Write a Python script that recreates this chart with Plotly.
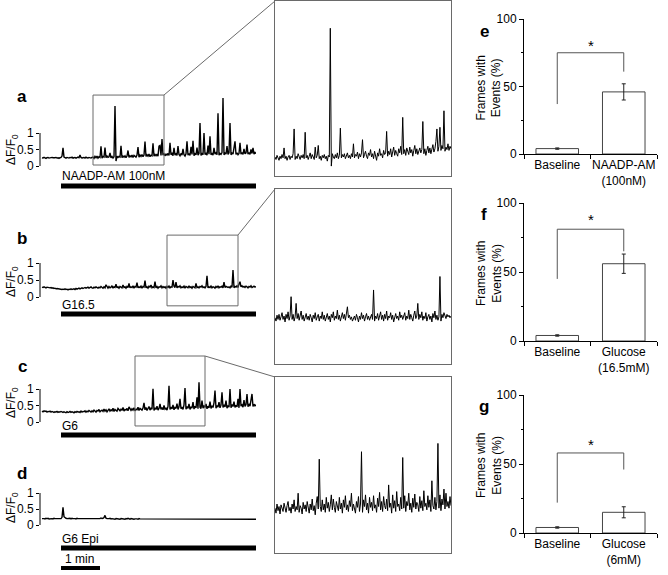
import numpy as np
import plotly.graph_objects as go

W, H = 668, 575
def px(x): return x / W
def py(y): return 1 - y / H

SEC_PER_SAMPLE = 60 / 39  # one sample per screen pixel; 1 min = 39 px
def t(i): return i * SEC_PER_SAMPLE

# ---------------- traces (ΔF/F0) ----------------
trace_a = [
 0.25,0.24,0.26,0.25,0.23,0.25,0.26,0.24,0.25,0.24,0.26,0.25,0.24,0.25,0.26,0.24,0.25,0.23,0.25,
 0.26,0.30,0.55,0.27,
 0.25,0.24,0.26,0.25,0.24,0.26,0.25,0.27,0.24,0.25,0.26,0.24,0.25,0.27,0.25,0.33,0.26,0.24,0.25,0.26,0.24,0.27,0.25,0.24,0.26,0.25,0.24,0.26,
 0.27,0.23,0.29,0.25,0.30,0.24,0.28,0.26,0.60,0.24,0.29,0.27,0.56,0.25,0.30,0.26,0.28,0.40,0.25,0.29,
 0.24,0.28,1.82,0.15,0.30,0.26,0.29,0.27,0.61,0.25,0.30,0.27,0.31,0.25,0.30,0.47,0.26,0.31,0.28,0.33,
 0.26,0.32,0.29,0.27,0.33,0.57,0.27,0.33,0.29,0.35,0.28,0.33,0.74,0.29,0.34,0.30,0.36,0.28,0.33,0.31,
 0.69,0.30,0.35,0.31,0.36,0.30,0.60,0.62,0.32,0.82,0.33,0.37,
 0.31,0.36,0.33,0.38,0.32,0.70,0.34,0.38,0.31,0.55,0.33,0.37,0.32,0.60,0.35,0.31,0.38,0.33,0.52,0.34,
 0.30,0.37,0.75,0.33,0.38,0.32,0.58,0.35,0.76,0.31,0.37,0.34,0.56,0.33,0.38,1.30,0.32,0.39,0.34,1.00,
 0.35,0.38,0.33,0.62,0.36,0.90,0.34,0.39,0.33,0.55,0.36,0.40,0.34,1.60,0.33,0.38,0.35,0.41,2.06,0.34,
 0.39,0.36,0.60,0.35,0.40,1.30,0.34,0.39,0.36,0.55,0.75,0.35,0.40,0.34,0.38,0.70,0.36,0.41,0.35,0.52,
 0.37,0.40,0.65,0.36,0.41,0.35,0.50,0.38,0.55,0.36,0.41,0.38,
]
inset_a = [
 0.26,0.23,0.28,0.25,0.22,0.27,0.24,0.29,0.25,0.37,0.24,0.27,0.22,0.26,0.28,0.23,
 0.27,0.25,0.30,0.60,0.23,0.27,0.24,0.30,0.26,0.23,0.28,0.25,0.29,0.24,0.56,0.25,
 0.28,0.23,0.27,0.31,0.24,0.29,0.26,0.23,0.38,0.25,0.28,0.40,0.24,0.27,0.22,0.28,
 0.25,0.29,0.24,0.27,0.21,0.28,0.26,1.82,0.15,0.30,0.26,0.24,0.29,0.25,0.31,0.24,
 0.28,0.61,0.25,0.29,0.26,0.30,0.24,0.27,0.31,0.25,0.28,0.24,0.30,0.26,0.42,0.25,
 0.29,0.27,0.32,0.24,0.30,0.26,0.31,0.47,0.25,0.29,0.33,0.27,0.24,0.31,0.28,0.35,
 0.26,0.30,0.24,0.33,0.29,0.22,0.31,0.27,0.36,0.28,0.30,0.25,0.34,0.29,0.31,0.57,
 0.27,0.33,0.29,0.36,0.26,0.31,0.38,0.28,0.34,0.30,0.27,0.36,0.31,0.39,0.29,0.74,
 0.30,0.35,0.28,0.37,0.32,0.29,0.38,0.31,0.35,0.27,0.34,0.40,0.30,0.36,0.29,0.33,
 0.37,0.31,0.35,0.69,0.30,0.36,0.28,0.34,0.39,0.31,0.37,0.30,0.35,0.41,0.32,0.36,
 0.45,0.60,0.33,0.39,0.62,0.34,0.40,0.36,0.82,0.33,0.38,0.35,0.42,0.34,0.39,0.36,
]
trace_b = [
 0.29,0.28,0.30,0.28,0.27,0.29,0.28,0.26,0.27,0.28,0.26,0.27,0.25,0.26,0.24,0.25,0.24,0.23,0.24,0.23,
 0.22,0.23,0.22,0.24,0.22,0.23,0.21,0.23,0.22,0.24,0.22,0.23,0.24,0.22,0.25,0.23,0.24,0.26,0.24,0.25,
 0.27,0.25,0.26,0.28,0.26,0.27,0.29,0.26,0.28,0.30,0.27,0.26,0.29,0.27,0.30,0.28,0.26,0.29,0.27,0.31,
 0.28,0.26,0.30,0.27,0.36,0.28,0.26,0.31,0.27,0.29,0.33,0.26,0.30,0.28,0.38,0.27,0.30,0.26,0.31,0.29,
 0.27,0.35,0.28,0.30,0.26,0.31,0.28,0.40,0.27,0.30,0.28,0.33,0.26,0.31,0.29,0.42,0.27,0.30,0.28,0.32,
 0.26,0.31,0.29,0.48,0.27,0.30,0.26,0.32,0.29,0.35,0.27,0.30,0.28,0.45,0.27,0.31,0.26,0.30,0.29,0.33,
 0.27,0.31,0.28,0.30,0.26,0.31,0.28,0.32,0.27,0.30,0.29,0.50,0.32,0.28,0.44,0.27,0.31,0.29,0.33,0.27,
 0.30,0.28,0.32,0.26,0.31,0.29,0.27,0.33,0.28,0.30,0.26,0.31,0.29,0.27,0.40,0.28,0.30,0.27,0.31,0.29,
 0.33,0.28,0.30,0.27,0.31,0.62,0.27,0.30,0.28,0.32,0.27,0.30,0.29,0.26,0.31,0.28,0.33,0.27,0.30,0.29,
 0.32,0.27,0.44,0.28,0.31,0.29,0.28,0.30,0.27,0.32,0.29,0.79,0.27,0.31,0.29,0.33,0.28,0.38,0.45,0.30,
 0.33,0.29,0.31,0.28,0.32,0.30,0.27,0.31,0.29,0.33,0.28,0.30,0.32,0.29,0.31,
]
inset_b = [
 0.29,0.25,0.32,0.27,0.33,0.26,0.30,0.35,0.27,0.31,0.24,0.33,0.28,0.36,0.26,0.31,
 0.54,0.27,0.33,0.25,0.30,0.46,0.28,0.34,0.26,0.31,0.37,0.27,0.32,0.25,0.30,0.34,
 0.27,0.31,0.26,0.33,0.29,0.24,0.32,0.28,0.35,0.26,0.30,0.33,0.25,0.31,0.28,0.36,
 0.27,0.32,0.25,0.30,0.34,0.27,0.31,0.24,0.33,0.29,0.36,0.26,0.31,0.28,0.38,0.27,
 0.32,0.25,0.30,0.35,0.28,0.33,0.26,0.37,0.42,0.29,0.32,0.27,0.30,0.25,0.28,0.31,
 0.26,0.33,0.29,0.24,0.31,0.27,0.35,0.28,0.32,0.25,0.30,0.34,0.27,0.31,0.26,0.29,
 0.33,0.27,0.62,0.25,0.31,0.28,0.34,0.26,0.30,0.36,0.27,0.32,0.25,0.33,0.28,0.37,
 0.26,0.31,0.29,0.35,0.27,0.32,0.24,0.30,0.34,0.28,0.31,0.26,0.36,0.29,0.32,0.27,
 0.30,0.35,0.26,0.31,0.28,0.38,0.27,0.33,0.29,0.25,0.32,0.37,0.28,0.31,0.46,0.27,
 0.33,0.29,0.36,0.26,0.31,0.28,0.35,0.25,0.30,0.33,0.27,0.31,0.24,0.34,0.29,0.37,
 0.27,0.32,0.26,0.30,0.78,0.25,0.33,0.29,0.35,0.31,0.28,0.33,0.30,0.32,0.29,0.31,
]
trace_c = [
 0.33,0.31,0.34,0.32,0.33,0.30,0.32,0.31,0.33,0.30,0.32,0.31,0.29,0.31,0.30,0.32,0.29,0.31,0.30,0.32,
 0.30,0.29,0.31,0.30,0.28,0.31,0.29,0.30,0.32,0.29,0.31,0.30,0.28,0.31,0.29,0.32,0.30,0.31,0.29,0.33,
 0.30,0.32,0.31,0.34,0.30,0.33,0.31,0.35,0.32,0.30,0.34,0.31,0.36,0.32,0.30,0.35,0.33,0.38,0.31,0.34,
 0.36,0.32,0.39,0.33,0.37,0.31,0.35,0.40,0.33,0.37,0.34,0.42,0.32,0.38,0.35,0.33,0.41,0.36,0.34,0.39,
 0.35,0.44,0.33,0.38,0.36,0.41,0.34,0.46,0.37,0.35,0.40,0.36,0.43,0.34,0.39,0.37,0.45,0.35,0.41,0.38,
 0.36,0.42,0.58,0.37,0.44,0.35,0.40,0.47,0.36,0.42,0.39,1.01,0.35,0.43,0.38,0.48,0.36,0.41,0.55,0.38,
 0.44,0.37,0.50,0.39,0.42,0.36,0.47,1.10,0.38,0.45,0.40,0.52,0.37,0.44,0.41,0.56,0.38,0.46,0.70,0.40,
 0.45,0.38,0.52,1.03,0.39,0.47,0.41,0.55,0.38,0.46,0.42,0.60,0.39,0.48,0.43,0.75,0.40,1.20,0.45,0.41,
 0.65,0.42,0.50,0.44,0.55,0.40,0.48,0.43,0.62,0.41,0.49,0.44,0.58,0.95,0.42,0.50,0.45,0.60,0.43,0.51,
 0.90,0.44,0.52,0.46,0.65,0.42,0.50,0.45,1.00,0.43,0.53,0.47,0.62,0.44,0.51,0.46,0.70,0.43,1.00,0.48,
 0.52,0.45,0.66,0.47,0.53,0.85,0.46,0.55,0.48,0.75,0.85,0.47,0.54,0.49,0.52,
]
inset_c = [
 0.42,0.36,0.47,0.39,0.44,0.35,0.46,0.40,0.38,0.48,0.41,0.37,0.45,0.50,0.39,0.43,
 0.36,0.47,0.41,0.52,0.38,0.44,0.40,0.60,0.37,0.45,0.42,0.35,0.49,0.41,0.46,0.38,
 0.50,0.43,0.36,0.47,0.40,0.53,0.39,0.45,0.34,0.48,0.56,0.41,1.01,0.44,0.38,0.52,
 0.40,0.47,0.37,0.55,0.42,0.49,0.38,0.46,0.58,0.40,0.53,0.43,0.37,0.50,0.44,0.39,
 0.55,0.41,0.48,0.36,0.52,0.43,0.57,0.40,0.46,0.38,0.51,0.44,0.60,0.39,0.47,0.42,
 0.36,0.50,0.43,0.56,0.38,0.47,1.10,0.37,0.52,0.44,0.58,0.40,0.48,0.36,0.55,0.43,
 0.49,0.39,0.57,0.42,0.46,0.37,0.54,0.44,0.61,0.40,0.50,0.38,0.56,0.45,0.41,0.53,
 0.39,0.70,0.43,0.48,0.36,0.58,0.42,0.51,0.38,0.62,0.44,0.47,0.39,0.55,0.41,1.03,
 0.42,0.57,0.38,0.50,0.45,0.60,0.40,0.48,0.37,0.54,0.43,0.59,0.41,0.49,0.46,0.38,
 0.56,0.42,0.51,0.39,0.63,0.44,0.48,0.40,0.57,0.43,0.52,0.38,0.75,0.45,0.41,0.55,
 0.40,0.50,1.20,0.42,0.58,0.39,0.53,0.46,0.65,0.41,0.60,0.44,0.50,0.42,0.56,0.45,
]
trace_d = [
 0.20,0.21,0.20,0.19,0.21,0.20,0.21,0.19,0.20,0.21,0.20,0.19,0.21,0.20,0.20,0.21,0.19,0.20,0.21,0.20,
 0.24,0.55,0.26,0.22,0.21,0.20,0.21,0.20,0.21,0.19,0.21,0.20,0.21,0.20,0.19,0.21,0.20,0.20,0.21,0.19,
 0.20,0.21,0.20,0.19,0.20,0.21,0.20,0.19,0.21,0.20,0.19,0.20,0.21,0.19,0.20,0.20,0.21,0.19,0.20,0.22,
 0.20,0.21,0.23,0.30,0.21,0.20,0.19,0.20,0.21,0.19,0.20,0.19,0.20,0.18,0.20,0.19,0.20,0.19,0.18,0.20,
 0.19,0.20,0.19,0.18,0.20,0.19,0.21,0.19,0.18,0.20,0.19,0.20,0.18,0.19,0.20,0.19,0.18,0.20,0.19,0.19,
 0.20,0.18,0.19,0.20,0.19,0.18,0.20,0.19,0.18,0.19,0.20,0.18,0.19,0.19,0.18,0.20,0.19,0.18,0.20,0.19,
 0.18,0.19,0.20,0.18,0.19,0.18,0.20,0.19,0.18,0.19,0.18,0.20,0.19,0.18,0.19,0.18,0.19,0.20,0.18,0.19,
 0.18,0.19,0.18,0.20,0.19,0.18,0.19,0.18,0.19,0.18,0.20,0.18,0.19,0.18,0.19,0.18,0.19,0.18,0.19,0.18,
 0.19,0.18,0.20,0.19,0.18,0.19,0.18,0.19,0.18,0.19,0.18,0.20,0.19,0.18,0.19,0.18,0.19,0.18,0.19,0.18,
 0.19,0.18,0.19,0.20,0.19,0.18,0.19,0.18,0.19,0.18,0.19,0.18,0.19,0.20,0.18,0.19,0.18,0.19,0.18,0.19,
 0.18,0.19,0.18,0.19,0.18,0.19,0.18,0.19,0.18,0.19,0.18,0.19,0.18,0.19,0.18,
]

# ---------------- bar charts ----------------
cats_e = ["Baseline", "NAADP-AM<br>(100nM)"]
vals_e = [4, 46]
err_e = [0.5, 6]
cats_f = ["Baseline", "Glucose<br>(16.5mM)"]
vals_f = [4, 56]
err_f = [0.5, 7]
cats_g = ["Baseline", "Glucose<br>(6mM)"]
vals_g = [4, 15]
err_g = [0.5, 4]

treat_labels = ["NAADP-AM 100nM", "G16.5", "G6", "G6 Epi"]
panel_letters = ["a", "b", "c", "d"]

FONT = "Liberation Sans, Arial, Helvetica, sans-serif"
GRAY = "#6a6a6a"

fig = go.Figure()
layout = dict(width=W, height=H, autosize=False, margin=dict(l=0, r=0, t=0, b=0, autoexpand=False),
              paper_bgcolor="white", plot_bgcolor="rgba(0,0,0,0)", showlegend=False,
              font=dict(family=FONT, size=12, color="black"))
shapes, annotations = [], []

def ax_names(k):
    s = "" if k == 1 else str(k)
    return "xaxis" + s, "yaxis" + s, "x" + s, "y" + s

main_panels = [
    dict(vals=trace_a, zero=166, unit=33, top=88, bot=195, lab_y=97, ttl_y=150, txt_y=176, bar_y=186),
    dict(vals=trace_b, zero=297, unit=34, top=226, bot=322, lab_y=238, ttl_y=282, txt_y=305, bar_y=314),
    dict(vals=trace_c, zero=422, unit=33, top=352, bot=442, lab_y=366, ttl_y=403, txt_y=426, bar_y=435),
    dict(vals=trace_d, zero=525, unit=32, top=462, bot=575, lab_y=473, ttl_y=508, txt_y=539, bar_y=548),
]
t_end = t(len(trace_a) - 1)
for k, p in enumerate(main_panels, start=1):
    xa, ya, xr, yr = ax_names(k)
    vals = p["vals"]
    tt = np.arange(len(vals)) * SEC_PER_SAMPLE
    fig.add_trace(go.Scatter(x=tt, y=vals, mode="lines", line=dict(color="black", width=1.4),
                             xaxis=xr, yaxis=yr, hoverinfo="skip"))
    val = lambda yy, p=p: (p["zero"] - yy) / p["unit"]
    layout[xa] = dict(domain=[px(40), px(256)], range=[t(-2), t_end], visible=False, anchor=yr,
                      automargin=False)
    layout[ya] = dict(domain=[py(p["bot"]), py(p["top"])], range=[val(p["bot"]), val(p["top"])],
                      anchor=xr, tickvals=[0, 0.5, 1], ticktext=["0", "0.5", "1"], ticks="outside",
                      ticklen=3, tickcolor="black", showgrid=False, zeroline=False, showline=False,
                      tickfont=dict(size=12, family=FONT), automargin=False)
    shapes.append(dict(type="line", xref=xr + " domain", yref=yr, x0=0, x1=0, y0=0, y1=1,
                       line=dict(color="black", width=1)))
    shapes.append(dict(type="line", xref=xr, yref=yr, x0=t(19), x1=t_end, y0=val(p["bar_y"]),
                       y1=val(p["bar_y"]), line=dict(color="black", width=5)))
    annotations.append(dict(text=treat_labels[k - 1], xref="paper", yref="paper", x=px(60), y=py(p["txt_y"]),
                            xanchor="left", yanchor="middle", showarrow=False, font=dict(size=12)))
    annotations.append(dict(text="<b>" + panel_letters[k - 1] + "</b>", xref="paper", yref="paper",
                            x=px(22), y=py(p["lab_y"]), xanchor="center", yanchor="middle",
                            showarrow=False, font=dict(size=17)))
    annotations.append(dict(text="ΔF/F<sub>0</sub>", xref="paper", yref="paper", x=px(12),
                            y=py(p["ttl_y"]), xanchor="center", yanchor="middle", textangle=-90,
                            showarrow=False, font=dict(size=12)))
    if k == 4:
        shapes.append(dict(type="line", xref=xr, yref=yr, x0=t(19), x1=t(19) + 60,
                           y0=val(568), y1=val(568), line=dict(color="black", width=4)))
        annotations.append(dict(text="1 min", xref="paper", yref="paper", x=px(63), y=py(559),
                                xanchor="left", yanchor="middle", showarrow=False, font=dict(size=12)))

insets = [
    dict(vals=inset_a, main=1, i0=51, i1=122, top=1, bot=176, ylo=0.03, yhi=2.15, corner=(164, 95), to=(275, 1)),
    dict(vals=inset_b, main=2, i0=125, i1=196, top=189, bot=364, ylo=-0.26, yhi=1.82, corner=(238, 235), to=(275, 189)),
    dict(vals=inset_c, main=3, i0=93, i1=163, top=377, bot=553, ylo=-0.12, yhi=2.0, corner=(205, 356), to=(275, 377)),
]
for j, ins in enumerate(insets):
    k = 5 + j
    xa, ya, xr, yr = ax_names(k)
    n = len(ins["vals"])
    tt = np.linspace(t(ins["i0"]), t(ins["i1"]), n)
    fig.add_trace(go.Scatter(x=tt, y=ins["vals"], mode="lines", line=dict(color="black", width=1),
                             xaxis=xr, yaxis=yr, hoverinfo="skip"))
    layout[xa] = dict(domain=[px(275), px(451)], range=[t(ins["i0"]), t(ins["i1"])], anchor=yr,
                      showline=True, mirror=True, linecolor=GRAY, linewidth=1, showticklabels=False,
                      ticks="", showgrid=False, zeroline=False, automargin=False)
    layout[ya] = dict(domain=[py(ins["bot"]), py(ins["top"])], range=[ins["ylo"], ins["yhi"]], anchor=xr,
                      showline=True, mirror=True, linecolor=GRAY, linewidth=1, showticklabels=False,
                      ticks="", showgrid=False, zeroline=False, automargin=False)
    _, _, mxr, myr = ax_names(ins["main"])
    shapes.append(dict(type="rect", xref=mxr, yref=myr, x0=t(ins["i0"]), x1=t(ins["i1"]),
                       y0=ins["ylo"], y1=ins["yhi"], line=dict(color=GRAY, width=1)))
    cx, cy = ins["corner"]
    tx, ty = ins["to"]
    shapes.append(dict(type="line", xref="paper", yref="paper", x0=px(cx), y0=py(cy), x1=px(tx), y1=py(ty),
                       line=dict(color=GRAY, width=1)))

bar_panels = [
    dict(cats=cats_e, vals=vals_e, err=err_e, top=19, bot=154, br=(37, 75, 61), star=80, letter="e", ly=31),
    dict(cats=cats_f, vals=vals_f, err=err_f, top=203, bot=341, br=(45, 81, 65), star=88, letter="f", ly=214),
    dict(cats=cats_g, vals=vals_g, err=err_g, top=395, bot=533, br=(22, 58, 46), star=64, letter="g", ly=406),
]
for j, b in enumerate(bar_panels):
    k = 8 + j
    xa, ya, xr, yr = ax_names(k)
    fig.add_trace(go.Bar(x=b["cats"], y=b["vals"], width=0.64, xaxis=xr, yaxis=yr,
                         marker=dict(color="white", line=dict(color="#444", width=1)),
                         error_y=dict(type="data", array=b["err"], color="#222", thickness=1, width=2),
                         hoverinfo="skip"))
    layout[xa] = dict(domain=[px(524), px(657)], range=[-0.5, 1.5], type="category", anchor=yr,
                      showline=True, linecolor="black", linewidth=1, ticks="outside", tickson="boundaries",
                      ticklen=4, tickcolor="black", showgrid=False, tickfont=dict(size=12),
                      tickangle=0, automargin=False)
    layout[ya] = dict(domain=[py(b["bot"]), py(b["top"])], range=[0, 100], anchor=xr,
                      showline=True, linecolor="black", linewidth=1, ticks="outside", ticklen=4,
                      tickcolor="black", tickvals=[0, 50, 100], showgrid=False, zeroline=False,
                      tickfont=dict(size=12), automargin=False,
                      minor=dict(tickvals=[25, 75], ticks="outside", ticklen=2, tickcolor="black"))
    y0, ytop, y1 = b["br"]
    shapes.append(dict(type="path", xref=xr, yref=yr,
                       path=f"M 0 {y0} L 0 {ytop} L 1 {ytop} L 1 {y1}",
                       line=dict(color="#555", width=1)))
    annotations.append(dict(text="*", xref=xr, yref=yr, x=0.5, y=b["star"], showarrow=False,
                            font=dict(size=15), xanchor="center", yanchor="middle"))
    annotations.append(dict(text="<b>" + b["letter"] + "</b>", xref="paper", yref="paper", x=px(484),
                            y=py(b["ly"]), showarrow=False, font=dict(size=17), xanchor="center",
                            yanchor="middle"))
    annotations.append(dict(text="Frames with<br>Events (%)", xref="paper", yref="paper", x=px(489),
                            y=py((b["top"] + b["bot"]) / 2 + 2), showarrow=False, textangle=-90,
                            font=dict(size=12), xanchor="center", yanchor="middle"))

layout["shapes"] = shapes
layout["annotations"] = annotations
fig.update_layout(**layout)
fig.write_html("out.html", config={"displayModeBar": False, "staticPlot": True},
               post_script="document.body.style.margin='0';document.body.style.padding='0';")
